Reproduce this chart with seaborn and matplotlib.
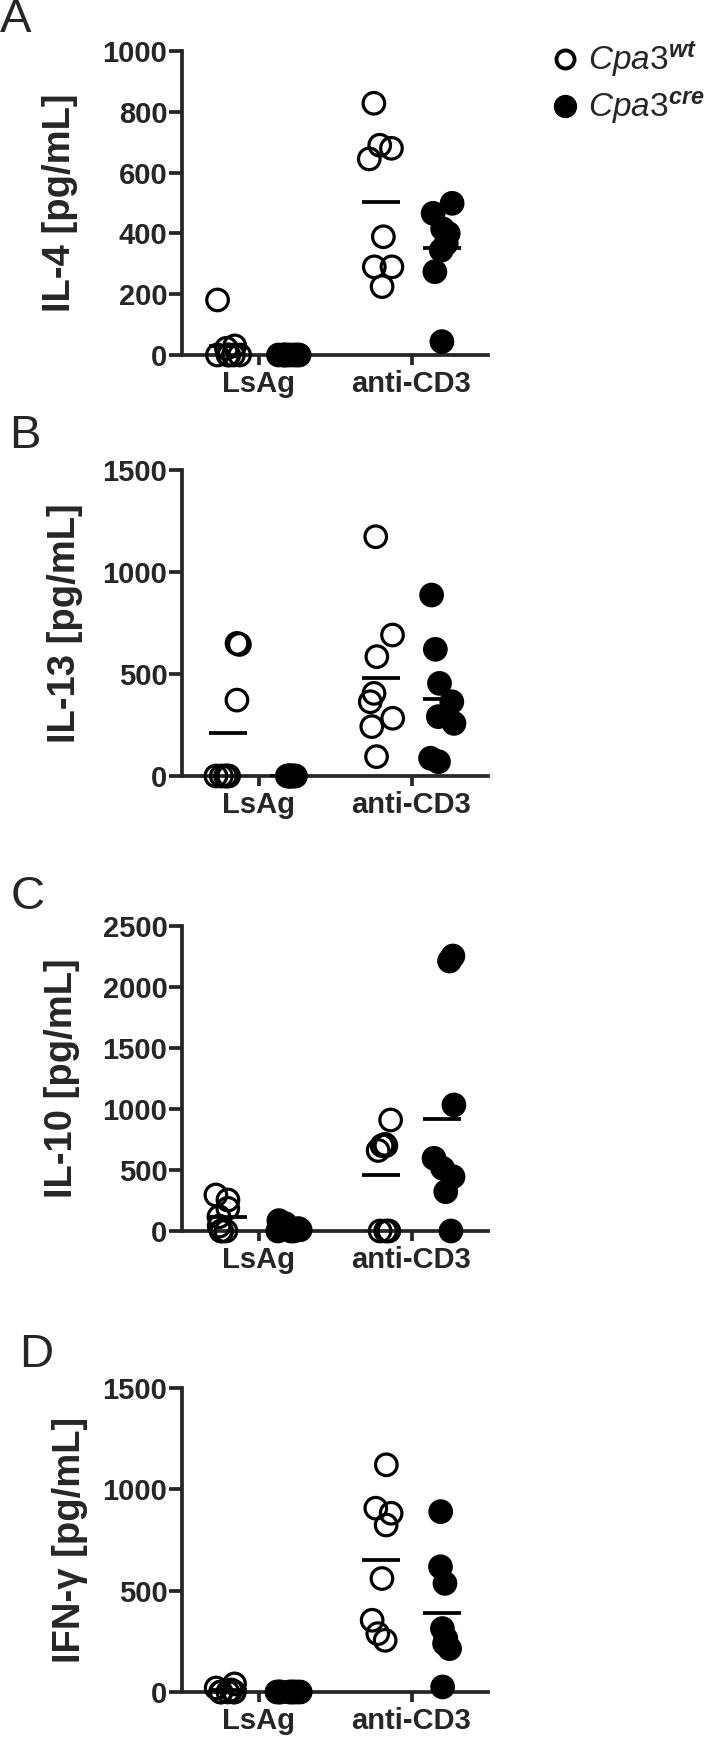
import numpy as np
import pandas as pd
import matplotlib
matplotlib.use("Agg")
import matplotlib.pyplot as plt
import seaborn as sns
from matplotlib.lines import Line2D

# ---------------- data ----------------
groups = ["LsAg", "anti-CD3"]
genotypes = ["wt", "cre"]

il4_wt_lsag = [181, 30, 22, 0, 0, 0, 0, 0]
il4_cre_lsag = [0, 0, 0, 0, 0, 0, 0, 0]
il4_wt_cd3 = [828, 690, 680, 645, 389, 290, 290, 225]
il4_cre_cd3 = [499, 466, 415, 400, 367, 345, 274, 44]

il13_wt_lsag = [650, 645, 372, 0, 0, 0, 0, 0]
il13_cre_lsag = [0, 0, 0, 0, 0, 0, 0, 0]
il13_wt_cd3 = [1173, 691, 585, 405, 364, 283, 242, 95]
il13_cre_cd3 = [887, 621, 454, 364, 291, 258, 87, 70]

il10_wt_lsag = [295, 254, 186, 117, 40, 0, 0, 0]
il10_cre_lsag = [85, 60, 35, 20, 10, 0, 0, 0]
il10_wt_cd3 = [910, 710, 700, 700, 660, 0, 0, 0]
il10_cre_cd3 = [2254, 2213, 1033, 596, 514, 445, 322, 0]

ifng_wt_lsag = [40, 20, 10, 0, 0, 0, 0, 0]
ifng_cre_lsag = [0, 0, 0, 0, 0, 0, 0, 0]
ifng_wt_cd3 = [1121, 907, 882, 824, 560, 354, 288, 255]
ifng_cre_cd3 = [890, 618, 536, 313, 264, 239, 214, 25]

panel_letters = ["A", "B", "C", "D"]
y_labels = ["IL-4 [pg/mL]", "IL-13 [pg/mL]", "IL-10 [pg/mL]", "IFN-γ [pg/mL]"]
y_max = [1000, 1500, 2500, 1500]
y_step = [200, 500, 500, 500]
legend_labels = [r"$\mathit{Cpa3}^{\mathbf{wt}}$", r"$\mathit{Cpa3}^{\mathbf{cre}}$"]


def make_df(wt_l, cre_l, wt_c, cre_c):
    rows = []
    for g, geno, vals in [("LsAg", "wt", wt_l), ("LsAg", "cre", cre_l),
                          ("anti-CD3", "wt", wt_c), ("anti-CD3", "cre", cre_c)]:
        for v in vals:
            rows.append({"group": g, "genotype": geno, "value": v})
    return pd.DataFrame(rows)


frames = [
    make_df(il4_wt_lsag, il4_cre_lsag, il4_wt_cd3, il4_cre_cd3),
    make_df(il13_wt_lsag, il13_cre_lsag, il13_wt_cd3, il13_cre_cd3),
    make_df(il10_wt_lsag, il10_cre_lsag, il10_wt_cd3, il10_cre_cd3),
    make_df(ifng_wt_lsag, ifng_cre_lsag, ifng_wt_cd3, ifng_cre_cd3),
]

# ---------------- style ----------------
sns.set_style("ticks")
plt.rcParams['font.family'] = ['Liberation Sans', 'DejaVu Sans']
plt.rcParams['mathtext.fontset'] = 'custom'
plt.rcParams['mathtext.it'] = 'Liberation Sans:italic'
plt.rcParams['mathtext.bf'] = 'Liberation Sans:italic:bold'
plt.rcParams['mathtext.rm'] = 'Liberation Sans'

W, H = 706, 1739
fig = plt.figure(figsize=(W / 100, H / 100), dpi=100)

# axes boxes in pixel coords (left, top, right, bottom)
boxes = [(182, 51, 488, 355), (182, 470, 488, 776), (182, 926, 488, 1231), (182, 1388, 488, 1692)]
label_x = [-0.34, -0.324, -0.333, -0.307]
letter_pos = [(0, 32), (9, 448), (11, 909), (19, 1367)]

pal_pts = {"wt": "white", "cre": "black"}
pal_mean = {"wt": "black", "cre": "black"}
LW = 2.7

for i in range(4):
    l, t, r, b = boxes[i]
    ax = fig.add_axes([l / W, 1 - b / H, (r - l) / W, (b - t) / H])
    df = frames[i]
    np.random.seed(7 + i)
    sns.stripplot(data=df, x="group", y="value", hue="genotype", order=groups,
                  hue_order=genotypes, palette=pal_pts, dodge=True, jitter=0.16,
                  size=15.5, edgecolor="black", linewidth=2.3, clip_on=False,
                  legend=False, ax=ax, zorder=3)
    for coll in ax.collections:
        fc = coll.get_facecolors()
        if len(fc) and np.allclose(fc[0][:3], 1.0):
            coll.set_facecolor("none")
    sns.pointplot(data=df, x="group", y="value", hue="genotype", order=groups,
                  hue_order=genotypes, palette=pal_mean, estimator="mean",
                  errorbar=None, dodge=0.4, markers="_", linestyle="none",
                  markersize=27, markeredgewidth=2.7, legend=False, ax=ax,
                  zorder=4)
    ax.set_xlim(-0.5, 1.5)
    ax.set_ylim(0, y_max[i])
    ax.set_yticks(np.arange(0, y_max[i] + 1, y_step[i]))
    ax.set_xlabel("")
    ax.set_ylabel(y_labels[i], fontsize=27.5, fontweight="bold")
    ax.yaxis.set_label_coords(label_x[i], 0.5)
    sns.despine(ax=ax)
    for s in ["left", "bottom"]:
        ax.spines[s].set_linewidth(LW)
    ax.tick_params(axis="y", length=9.5, width=LW, labelsize=21, pad=1)
    ax.tick_params(axis="x", length=7, width=LW, labelsize=21, pad=4)
    for lbl in ax.get_xticklabels() + ax.get_yticklabels():
        lbl.set_fontweight("bold")
    lx, ly = letter_pos[i]
    fig.text(lx / W, 1 - ly / H, panel_letters[i], fontsize=34, va="baseline", ha="left")

handles = [
    Line2D([], [], marker="o", ls="none", mfc="none", mec="black", mew=2.8, ms=13),
    Line2D([], [], marker="o", ls="none", mfc="black", mec="black", mew=2.8, ms=14),
]
fig.legend(handles, legend_labels, loc="upper left", bbox_to_anchor=(548 / W, 1 - 40 / H),
           frameon=False, fontsize=24, handletextpad=0.2, labelspacing=0.3,
           borderaxespad=0, borderpad=0, handlelength=1.0)

fig.savefig("out.png", dpi=100)
